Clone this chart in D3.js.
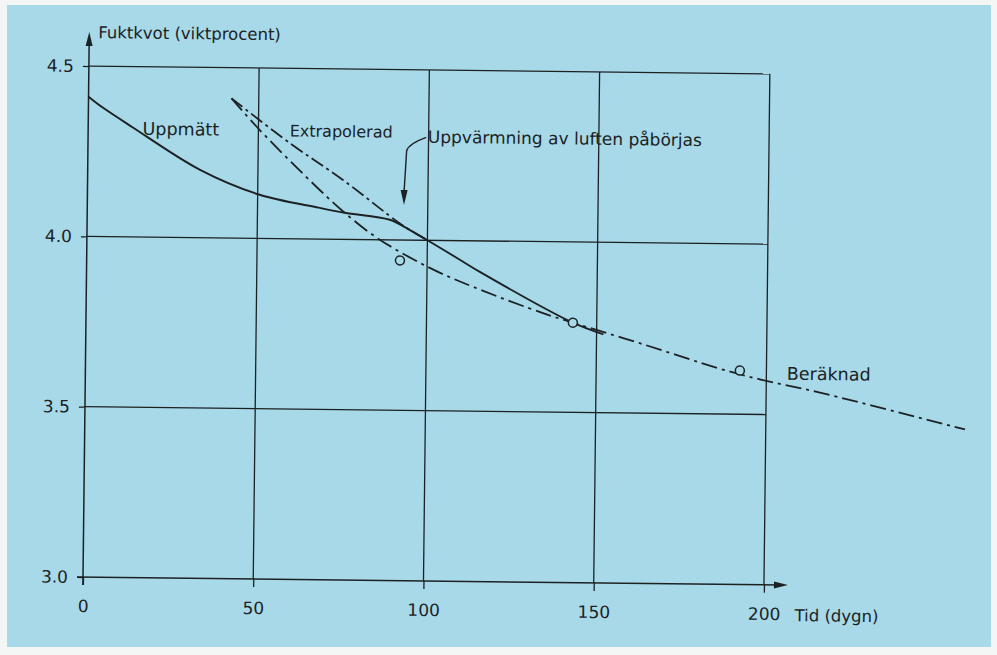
<!DOCTYPE html>
<html><head><meta charset="utf-8">
<script src="https://cdn.jsdelivr.net/npm/d3@7"></script>
<style>
html,body{margin:0;padding:0;background:#f4f6f5;}
svg{display:block}
text{font-family:"DejaVu Sans",sans-serif;fill:#1c2224;}
</style>
</head><body><svg id="c" width="997" height="655"></svg>
<script>
// ---- data ----
const xTicks = [0, 50, 100, 150, 200];
const yTicks = [3.0, 3.5, 4.0, 4.5];
const yTickLabels = ["3.0", "3.5", "4.0", "4.5"];
const yTitle = "Fuktkvot (viktprocent)";
const xTitle = "Tid (dygn)";

// Uppmätt (solid)
const uppDays = [0, 4, 13, 33, 50.6, 68, 75.6, 88.9, 94.2, 100, 109.6, 115.5, 143, 152];
const uppVals = [4.41, 4.38, 4.322, 4.199, 4.128, 4.092, 4.078, 4.059, 4.033, 4.0, 3.944, 3.909, 3.763, 3.73];

// Extrapolerad (dashed)
const extDays = [42, 59.2, 74.9, 92.4, 100];
const extVals = [4.41, 4.281, 4.175, 4.045, 4.0];

// Beräknad (dash-dot)
const berDays = [42, 50.4, 68.2, 75.6, 85.1, 100.8, 115.6, 134.2, 143, 162.7, 186.3, 198.1, 215.8, 258.5];
const berVals = [4.41, 4.318, 4.144, 4.078, 4.006, 3.919, 3.857, 3.790, 3.763, 3.705, 3.633, 3.603, 3.566, 3.463];

// open circles
const ptDays = [92, 143, 192.2];
const ptVals = [3.94, 3.763, 3.628];

// curve labels
const labelTexts = ["Uppmätt", "Extrapolerad", "Uppvärmning av luften påbörjas", "Beräknad"];
const labelDays  = [16, 59.2, 99.8, 206];
const labelVals  = [4.30, 4.30, 4.286, 3.603];
const labelSizes = [17.5, 16, 17, 17.5];

// annotation leader (text start -> bend -> arrow tip)
const leadDays = [99.3, 93.6, 93.0];
const leadVals = [4.302, 4.274, 4.103];

// ---- drawing ----
const svg = d3.select("#c");
const bg = "#a7d9e8";
svg.append("rect").attr("x", 7).attr("y", 5).attr("width", 984).attr("height", 642).attr("fill", bg);

const g = svg.append("g").attr("transform", "translate(83,577) rotate(0.66)");
const x = d3.scaleLinear().domain([0, 200]).range([0, 681]);
const y = d3.scaleLinear().domain([3.0, 4.5]).range([0, -511]);
const ink = "#1c2224";

// horizontal gridlines (3.5, 4.0, 4.5)
g.append("g").selectAll("line").data(yTicks.filter(v => v > 3.0)).join("line")
  .attr("x1", 0).attr("x2", x(200)).attr("y1", d => y(d)).attr("y2", d => y(d))
  .attr("stroke", ink).attr("stroke-width", 1.3);
// vertical gridlines (50..200)
g.append("g").selectAll("line").data(xTicks.filter(v => v > 0)).join("line")
  .attr("x1", d => x(d)).attr("x2", d => x(d)).attr("y1", y(4.5)).attr("y2", 0)
  .attr("stroke", ink).attr("stroke-width", 1.3);

// axes with d3 axis generators
const yAxis = g.append("g").call(d3.axisLeft(y).tickValues(yTicks).tickSize(6).tickPadding(9)
  .tickFormat((d, i) => yTickLabels[i]));
yAxis.select(".domain").remove();
yAxis.selectAll("line").attr("stroke", ink).attr("stroke-width", 1.3);
yAxis.selectAll("text").attr("font-size", 17).attr("font-family", "DejaVu Sans").attr("fill", ink);

const xAxis = g.append("g").call(d3.axisBottom(x).tickValues(xTicks).tickSize(8).tickPadding(15)
  .tickFormat(d3.format("d")));
xAxis.select(".domain").remove();
xAxis.selectAll("line").attr("stroke", ink).attr("stroke-width", 1.3);
xAxis.selectAll("text").attr("font-size", 17).attr("font-family", "DejaVu Sans").attr("fill", ink);

// main axis lines with arrows
g.append("line").attr("x1", 0).attr("x2", 0).attr("y1", 8).attr("y2", -534)
  .attr("stroke", ink).attr("stroke-width", 1.5);
g.append("path").attr("d", "M0,-545 L-3.5,-531 L3.5,-531 Z").attr("fill", ink);
g.append("line").attr("x1", -6).attr("x2", 694).attr("y1", 0).attr("y2", 0)
  .attr("stroke", ink).attr("stroke-width", 1.5);
g.append("path").attr("d", "M705,0 L691,-3.5 L691,3.5 Z").attr("fill", ink);

// axis titles
g.append("text").attr("x", 9).attr("y", -539).attr("font-size", 16.5).text(yTitle);
g.append("text").attr("x", 712).attr("y", 36).attr("font-size", 16.5).text(xTitle);

// curves
const line = d3.line().x(d => x(d[0])).y(d => y(d[1])).curve(d3.curveCatmullRom.alpha(0.5));
const zip = (a, b) => a.map((v, i) => [v, b[i]]);

g.append("path").datum(zip(berDays, berVals)).attr("d", line)
  .attr("fill", "none").attr("stroke", ink).attr("stroke-width", 1.8)
  .attr("stroke-dasharray", "16,5,3,5");
g.append("path").datum(zip(extDays, extVals)).attr("d", line)
  .attr("fill", "none").attr("stroke", ink).attr("stroke-width", 1.8)
  .attr("stroke-dasharray", "14,4,3,4");
g.append("path").datum(zip(uppDays, uppVals)).attr("d", line)
  .attr("fill", "none").attr("stroke", ink).attr("stroke-width", 1.9);

// open circles
g.append("g").selectAll("circle").data(zip(ptDays, ptVals)).join("circle")
  .attr("cx", d => x(d[0])).attr("cy", d => y(d[1])).attr("r", 4.5)
  .attr("fill", bg).attr("stroke", ink).attr("stroke-width", 1.5);

// labels
g.append("g").selectAll("text").data(labelTexts).join("text")
  .attr("x", (d, i) => x(labelDays[i])).attr("y", (d, i) => y(labelVals[i]))
  .attr("font-size", (d, i) => labelSizes[i]).text(d => d);

// annotation leader + arrow
const lp = zip(leadDays, leadVals).map(d => [x(d[0]), y(d[1])]);
g.append("path")
  .attr("d", `M${lp[0][0]},${lp[0][1]} Q${lp[1][0]+2},${lp[1][1]-3} ${lp[1][0]},${lp[1][1]+4} L${lp[2][0]},${lp[2][1]-14}`)
  .attr("fill", "none").attr("stroke", ink).attr("stroke-width", 1.4);
g.append("path")
  .attr("d", `M${lp[2][0]},${lp[2][1]} L${lp[2][0]-3.5},${lp[2][1]-15} L${lp[2][0]+3.5},${lp[2][1]-15} Z`)
  .attr("fill", ink);
</script>
</body></html>
